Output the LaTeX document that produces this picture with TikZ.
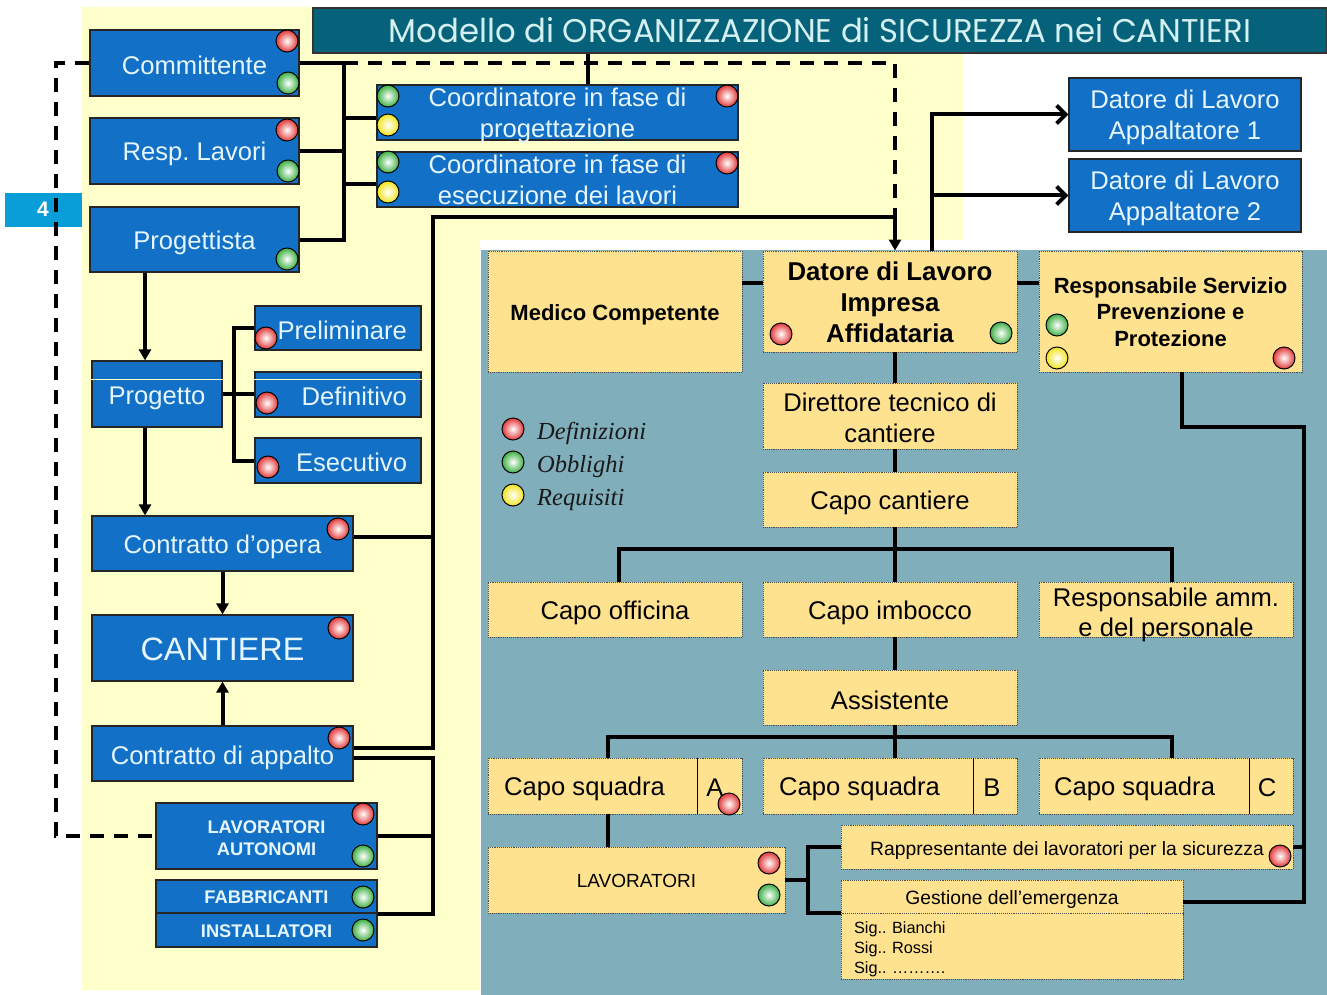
\documentclass[tikz,border=0pt]{standalone}
\usepackage{fontspec}
\setmainfont{Liberation Sans}
\newfontfamily\titlefont{Poppins}
\newfontfamily\legfont{Liberation Serif}
\usepackage{graphicx}
\usetikzlibrary{arrows.meta}
\definecolor{lyel}{HTML}{FFFFCC}
\definecolor{gbg}{HTML}{80AEBB}
\definecolor{boxblue}{HTML}{1270C6}
\definecolor{btext}{HTML}{E6F6FF}
\definecolor{yfill}{HTML}{FFE28F}
\definecolor{titleteal}{HTML}{05627A}
\definecolor{titletext}{HTML}{D5F0F0}
\definecolor{tabblue}{HTML}{0A9ED8}
\definecolor{bred}{HTML}{E23838}
\definecolor{bgreen}{HTML}{3CB043}
\definecolor{byellow}{HTML}{F2E41C}
\newcommand{\st}[1]{\rule{0pt}{#1pt}}
\newcommand{\nodp}[1]{\raisebox{0pt}[\height][0pt]{#1}}
\frenchspacing
\begin{document}
\begin{tikzpicture}[x=1pt,y=-1pt,
  bbox/.style={draw=black!85, line width=1.2pt, fill=boxblue, text=btext, inner sep=0pt, align=center, font=\fontsize{25.6}{31}\selectfont},
  ybx/.style={draw=black!70, densely dotted, line width=0.9pt, fill=yfill, inner sep=0pt, align=center, font=\fontsize{25.6}{31}\selectfont},
  lbl/.style={inner sep=0pt, font=\fontsize{25.6}{31}\selectfont},
  ball/.style={circle, draw=black, line width=1pt, minimum size=22pt, inner sep=0pt},
  rball/.style={ball, inner color=white, outer color=bred},
  gball/.style={ball, inner color=white, outer color=bgreen},
  yball/.style={ball, inner color=white, outer color=byellow},
  conn/.style={draw=black, line width=4pt},
  dashconn/.style={draw=black, line width=4pt, dash pattern=on 14pt off 10pt},
  tri/.style={-{Triangle[length=11pt,width=12pt]}},
  barb/.style={-{Straight Barb[length=9pt,width=18pt]}},
  divider/.style={draw=black, line width=1.6pt},
  legtext/.style={inner sep=0pt, font=\legfont\itshape\fontsize{24.5}{24.5}\selectfont, text=black!90}
]
\useasboundingbox (0,0) rectangle (1327,995);
\fill[white] (0,0) rectangle (1327,995);
% backgrounds
\fill[lyel] (82,7) -- (963,7) -- (963,240) -- (480,240) -- (480,990) -- (82,990) -- cycle;
\fill[gbg] (481,250) rectangle (1327,995);
\fill[tabblue] (5,193) rectangle (82,227);

% ---------------- nodes (left) ----------------
\node[draw=black!80, line width=1.2pt, fill=titleteal, minimum width=1014pt, minimum height=45pt, inner sep=0pt, text=titletext] (title) at (820,30.5)
  {\resizebox{862pt}{25pt}{\titlefont Modello di ORGANIZZAZIONE di SICUREZZA nei CANTIERI}};

\node[bbox, minimum width=209pt, minimum height=66pt] (comm) at (194.5,63) {\st{23}Committente};
\node[bbox, minimum width=209pt, minimum height=66pt] (resp) at (194.5,151) {\st{24.5}Resp. Lavori};
\node[bbox, minimum width=209pt, minimum height=65pt] (proj) at (194.5,239.5) {\st{24.5}Progettista};
\node[bbox, minimum width=361pt, minimum height=55pt] (coord1) at (557.5,112.5) {Coordinatore in fase di\\\nodp{progettazione}};
\node[bbox, minimum width=361pt, minimum height=55pt] (coord2) at (557.5,179.5) {Coordinatore in fase di\\esecuzione dei lavori};

\node[bbox, minimum width=130pt, minimum height=66pt] (progetto) at (157,394) {\st{25.5}Progetto};
\node[bbox, minimum width=166pt, minimum height=44pt, text width=138pt, inner xsep=14pt, align=right] (prelim) at (338,328) {\st{23}Preliminare};
\node[bbox, minimum width=166pt, minimum height=45pt, text width=138pt, inner xsep=14pt, align=right] (defin) at (338,394.5) {\st{23}Definitivo};
\node[bbox, minimum width=166pt, minimum height=45pt, text width=138pt, inner xsep=14pt, align=right] (esec) at (338,460.5) {\st{23}Esecutivo};

\node[bbox, minimum width=261pt, minimum height=55pt] (copera) at (222.5,543.5) {\st{26}Contratto d’opera};
\node[bbox, minimum width=261pt, minimum height=66pt, font=\fontsize{32.4}{36}\selectfont] (cantiere) at (222.5,648) {\st{25}CANTIERE};
\node[bbox, minimum width=261pt, minimum height=55pt] (cappalto) at (222.5,753.5) {\st{27}Contratto di appalto};

\node[bbox, minimum width=221pt, minimum height=66pt, font=\bfseries\fontsize{18.3}{22}\selectfont] (lavaut) at (266.5,836) {\st{17}LAVORATORI\\AUTONOMI};
\node[bbox, minimum width=221pt, minimum height=33pt, font=\bfseries\fontsize{18.3}{22}\selectfont] (fabb) at (266.5,896.5) {\st{15}FABBRICANTI};
\node[bbox, minimum width=221pt, minimum height=34pt, font=\bfseries\fontsize{18.3}{22}\selectfont] (inst) at (266.5,930) {\st{15}INSTALLATORI};

\node[bbox, minimum width=232pt, minimum height=73pt] (app1) at (1185,114.5) {\st{24.5}Datore di Lavoro\\Appaltatore 1};
\node[bbox, minimum width=232pt, minimum height=73pt] (app2) at (1185,195.5) {\st{24.5}Datore di Lavoro\\Appaltatore 2};

\node[inner sep=0pt, text=white, font=\bfseries\fontsize{21}{21}\selectfont] (tab4) at (43,209) {4};

% ---------------- nodes (right) ----------------
\node[ybx, minimum width=254pt, minimum height=121pt, font=\bfseries\fontsize{22}{26}\selectfont] (medico) at (615,311.5) {\st{22}Medico Competente};
\node[ybx, minimum width=254pt, minimum height=101pt, font=\bfseries\fontsize{25.8}{31}\selectfont] (datoreIA) at (890,301.5) {\st{20}Datore di Lavoro\\Impresa\\Affidataria};
\node[ybx, minimum width=263pt, minimum height=121pt, font=\bfseries\fontsize{22}{26.5}\selectfont] (rspp) at (1170.5,311.5) {\st{17}Responsabile Servizio\\Prevenzione e\\Protezione};
\node[ybx, minimum width=254pt, minimum height=66pt] (dirtec) at (890,416) {\st{23}Direttore tecnico di\\cantiere};
\node[ybx, minimum width=254pt, minimum height=55pt] (capocant) at (890,499.5) {\st{24.5}Capo cantiere};
\node[ybx, minimum width=254pt, minimum height=55pt] (capooff) at (615,609.5) {\st{24.5}Capo officina};
\node[ybx, minimum width=254pt, minimum height=55pt] (capoimb) at (890,609.5) {\st{24.5}Capo imbocco};
\node[ybx, minimum width=254pt, minimum height=55pt, font=\fontsize{25.6}{30}\selectfont] (respamm) at (1166,609.5) {\st{23.3}Responsabile amm.\\\nodp{e del personale}};
\node[ybx, minimum width=254pt, minimum height=55pt] (assist) at (890,697.5) {\st{23.5}Assistente};
\node[ybx, minimum width=254pt, minimum height=56pt] (csA) at (615,786) {};
\node[ybx, minimum width=254pt, minimum height=56pt] (csB) at (890,786) {};
\node[ybx, minimum width=254pt, minimum height=56pt] (csC) at (1166,786) {};
\node[ybx, minimum width=297pt, minimum height=66pt, font=\fontsize{19}{23}\selectfont] (lavor) at (636.5,880) {\st{15}LAVORATORI};
\node[ybx, minimum width=452pt, minimum height=44pt, font=\fontsize{19.3}{23}\selectfont] (rapp) at (1067,847) {\st{20}Rappresentante dei lavoratori per la sicurezza};
\node[ybx, minimum width=342pt, minimum height=33pt, font=\fontsize{19.3}{23}\selectfont] (gesth) at (1012,896.5) {\st{20}Gestione dell’emergenza};
\node[ybx, minimum width=342pt, minimum height=66pt, text width=316pt, inner xsep=13pt, align=left, font=\fontsize{16.3}{20}\selectfont] (gestb) at (1012,946) {\st{17.5}Sig.. Bianchi\\Sig.. Rossi\\Sig.. ……….};

% capo squadra texts and dividers
\draw[divider] ([xshift=-45pt]csA.north east) -- ([xshift=-45pt]csA.south east);
\draw[divider] ([xshift=-44pt]csB.north east) -- ([xshift=-44pt]csB.south east);
\draw[divider] ([xshift=-44pt]csC.north east) -- ([xshift=-44pt]csC.south east);
\node[lbl, anchor=west] (csAt) at (504,789) {Capo squadra};
\node[lbl, anchor=west] (csBt) at (779,789) {Capo squadra};
\node[lbl, anchor=west] (csCt) at (1054,789) {Capo squadra};
\node[lbl] (csAl) at (715,788) {A};
\node[lbl] (csBl) at (992,788) {B};
\node[lbl] (csCl) at (1267,788) {C};

% thin light lines in Progetto / Definitivo
\draw[lyel, line width=1pt] ([yshift=-19pt]progetto.north west) -- ([yshift=-19pt]progetto.north east);
\draw[lyel, line width=1pt] ([yshift=-8pt]defin.north west) -- ([yshift=-8pt]defin.north east);

% ---------------- connectors ----------------
% top-left bus
\draw[conn] (comm.east) -- ++(44,0) coordinate (b1) |- (proj.east);
\draw[conn] (resp.east) -- (resp.east -| b1);
\draw[conn] ([yshift=-5.5pt]coord1.west -| b1) -- ([yshift=-5.5pt]coord1.west);
\draw[conn] ([yshift=-4.5pt]coord2.west -| b1) -- ([yshift=-4.5pt]coord2.west);
% title to coordinator
\draw[conn] ([xshift=30.5pt]coord1.north) -- ([xshift=30.5pt]coord1.north |- title.south);
% dashed lines
\coordinate (ain) at ([xshift=5pt]datoreIA.north);
\draw[dashconn] (b1) -| ([yshift=34pt]ain);
\draw[dashconn] (comm.west) -- ++(-33,0) |- (lavaut.west);
% contracts to datore
\draw[conn, tri] ([yshift=5.5pt]cappalto.east) -- ++(79,0) coordinate (v1) -- ([yshift=34pt]ain -| v1) -- ([yshift=34pt]ain) -- (ain);
\draw[conn] ([yshift=6.5pt]copera.east) -- ([yshift=6.5pt]copera.east -| v1);
\draw[conn] ([yshift=-4.5pt]cappalto.east) -- ++(79,0) coordinate (l1) |- (fabb.south east);
\draw[conn] (lavaut.east) -- (lavaut.east -| l1);
% project chain
\draw[conn, tri] ([xshift=-49.5pt]proj.south) -- ([xshift=-12pt]progetto.north);
\draw[conn, tri] ([xshift=-12pt]progetto.south) -- ([xshift=-12pt]progetto.south |- copera.north);
\draw[conn, tri] (copera.south) -- (cantiere.north);
\draw[conn, tri] (cappalto.north) -- (cantiere.south);
\draw[conn] (progetto.east) -- ++(11,0) coordinate (pb);
\draw[conn] (prelim.west) -| (pb) |- (esec.west);
\draw[conn] (pb) -- (defin.west |- pb);
% right side
\draw[conn, barb] ([xshift=42pt]datoreIA.north) |- (app1.west);
\draw[conn, barb] ([xshift=42pt]datoreIA.north |- app2.west) -- (app2.west);
\draw[conn] ([yshift=28.5pt]medico.east) -- ([yshift=28.5pt]medico.east -| datoreIA.west);
\draw[conn] ([yshift=18.5pt]datoreIA.east) -- ([yshift=18.5pt]datoreIA.east -| rspp.west);
\draw[conn] ([xshift=5pt]datoreIA.south) -- ([xshift=5pt]dirtec.north);
\draw[conn] ([xshift=5pt]dirtec.south) -- ([xshift=5pt]capocant.north);
\draw[conn] ([xshift=5pt]capocant.south) -- ([xshift=5pt]capoimb.north);
\draw[conn] ([xshift=4pt]capooff.north) -- ++(0,-33) -| ([xshift=6pt]respamm.north);
\draw[conn] ([xshift=5pt]capoimb.south) -- ([xshift=5pt]assist.north);
\draw[conn] ([xshift=5pt]assist.south) -- ([xshift=5pt]csB.north);
\draw[conn] ([xshift=-7pt]csA.north) -- ++(0,-21) -| ([xshift=6pt]csC.north);
\draw[conn] ([xshift=-7pt]csA.south) -- ([xshift=-7pt]csA.south |- lavor.north);
\draw[conn] (lavor.east) -- ++(23,0) coordinate (lb);
\draw[conn] (rapp.west) -| (lb) |- (gesth.south west);
\draw[conn] ([xshift=11.5pt]rspp.south) -- ++(0,55) -| (1304,902) coordinate (rb) -- ([yshift=-5.5pt]gesth.east);
\draw[conn] (rapp.east) -- (rapp.east -| rb);

% ---------------- balls ----------------
\node[rball] (b01) at (287,41) {};
\node[gball] (b02) at (288,83) {};
\node[rball] (b03) at (287,130) {};
\node[gball] (b04) at (288,171) {};
\node[gball] (b05) at (287,259) {};
\node[gball] (b06) at (388,96) {};
\node[yball] (b07) at (388,125) {};
\node[rball] (b08) at (727,96) {};
\node[gball] (b09) at (388,162) {};
\node[yball] (b10) at (388,192) {};
\node[rball] (b11) at (727,163) {};
\node[rball] (b12) at (266,338) {};
\node[rball] (b13) at (267,403) {};
\node[rball] (b14) at (268,467) {};
\node[rball] (b15) at (338,529) {};
\node[rball] (b16) at (339,628) {};
\node[rball] (b17) at (339,738) {};
\node[rball] (b18) at (363,814) {};
\node[gball] (b19) at (363,856) {};
\node[gball] (b20) at (363,897) {};
\node[gball] (b21) at (363,930) {};
\node[rball] (b22) at (781,334) {};
\node[gball] (b23) at (1001,333) {};
\node[gball] (b24) at (1057,325) {};
\node[yball] (b25) at (1057,358) {};
\node[rball] (b26) at (1284,358) {};
\node[rball] (b27) at (729,804) {};
\node[rball] (b28) at (769,863) {};
\node[gball] (b29) at (769,895) {};
\node[rball] (b30) at (1280,856) {};
% legend
\node[rball] (lg1) at (513,429) {};
\node[gball] (lg2) at (513,462) {};
\node[yball] (lg3) at (513,495) {};
\node[legtext, anchor=base west] (lg1t) at (537,439) {Definizioni};
\node[legtext, anchor=base west] (lg2t) at (537,472) {Obblighi};
\node[legtext, anchor=base west] (lg3t) at (537,505) {Requisiti};
\end{tikzpicture}
\end{document}
